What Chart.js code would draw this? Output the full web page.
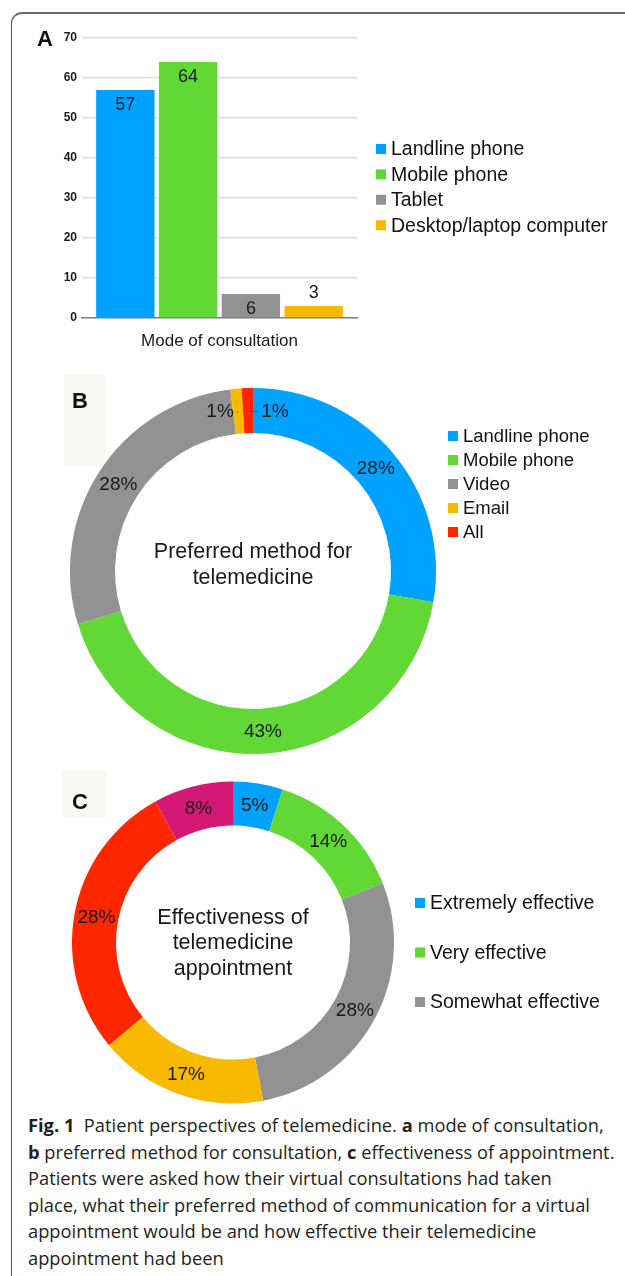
<!DOCTYPE html>
<html>
<head>
<meta charset="utf-8">
<script src="https://cdn.jsdelivr.net/npm/chart.js@4.4.0/dist/chart.umd.min.js"></script>
<style>
  html, body { margin: 0; padding: 0; background: #fff; }
  body { width: 625px; height: 1276px; position: relative; overflow: hidden; font-family: "Liberation Sans", Arial, sans-serif; }
  canvas { position: absolute; left: 0; }
  .frame { position: absolute; left: 11px; top: 12px; width: 660px; height: 1280px; border-top: 2px solid #6a6a6a; border-left: 1.5px solid #555; border-top-left-radius: 11px; }
  .tag { position: absolute; font-weight: bold; font-size: 22px; line-height: 22px; color: #111; }
  .tagbg { position: absolute; background: #f8f8f6; }
  .caption { position: absolute; left: 28px; top: 1112px; font-family: "Open Sans", sans-serif; font-size: 18.3px; line-height: 26.5px; color: #231f20; white-space: nowrap; }
  .caption b { font-weight: 700; }
</style>
</head>
<body>
<div class="frame"></div>
<div class="tagbg" style="left:64px;top:375px;width:41px;height:92px"></div>
<div class="tagbg" style="left:62px;top:770px;width:45px;height:47px"></div>

<canvas id="chartA" width="625" height="360" style="top:0"></canvas>
<canvas id="chartB" width="625" height="400" style="top:360px"></canvas>
<canvas id="chartC" width="625" height="350" style="top:760px"></canvas>

<div class="tag" style="left:37px;top:28px">A</div>
<div class="tag" style="left:72px;top:390px">B</div>
<div class="tag" style="left:72px;top:791px">C</div>

<div class="caption">
  <div><b>Fig. 1</b>&nbsp; Patient perspectives of telemedicine. <b>a</b> mode of consultation,</div>
  <div><b>b</b> preferred method for consultation, <b>c</b> effectiveness of appointment.</div>
  <div>Patients were asked how their virtual consultations had taken</div>
  <div>place, what their preferred method of communication for a virtual</div>
  <div>appointment would be and how effective their telemedicine</div>
  <div>appointment had been</div>
</div>

<script>
// panel A - mode of consultation (counts)
const modeCategory = ['Mode of consultation'];
const modeLabels = ['Landline phone', 'Mobile phone', 'Tablet', 'Desktop/laptop computer'];
const modeCounts = [57, 64, 6, 3];
const modeColors = ['#00A2FF', '#61D836', '#929292', '#F8BA00'];

// panel B - preferred method (%)
const methodLabels = ['Landline phone', 'Mobile phone', 'Video', 'Email', 'All'];
const methodPct = [28, 43, 28, 1, 1];
const methodColors = ['#00A2FF', '#61D836', '#929292', '#F8BA00', '#FF2600'];

// panel C - effectiveness (%)
const effectLabels = ['Extremely effective', 'Very effective', 'Somewhat effective', 'Slightly effective', 'Not effective', 'Not applicable'];
const effectPct = [5, 14, 28, 17, 28, 8];
const effectColors = ['#00A2FF', '#61D836', '#929292', '#F8BA00', '#FF2600', '#D41876'];

const FONT = '"Liberation Sans", Arial, sans-serif';

// legend drawn at a fixed spot beside the plot
const sideLegend = {
    id: 'sideLegend',
    afterDraw(chart, args, opts) {
        const ctx = chart.ctx;
        let items;
        if (chart.config.type === 'bar') {
            items = chart.data.datasets.map(d => ({ text: d.label, color: d.backgroundColor }));
        } else {
            const ds = chart.data.datasets[0];
            items = chart.data.labels.map((l, i) => ({ text: l, color: ds.backgroundColor[i] }));
        }
        items = items.slice(0, opts.max || items.length);
        ctx.save();
        ctx.font = opts.size + 'px ' + FONT;
        ctx.textBaseline = 'middle';
        ctx.textAlign = 'left';
        items.forEach((it, i) => {
            const y = opts.y + i * opts.gap;
            ctx.fillStyle = it.color;
            ctx.fillRect(opts.x, y - 5, 10, 10);
            ctx.fillStyle = '#111';
            ctx.fillText(it.text, opts.x + 15, y + 1);
        });
        ctx.restore();
    }
};

const barValues = {
    id: 'barValues',
    afterDatasetsDraw(chart) {
        const ctx = chart.ctx;
        ctx.save();
        ctx.font = '18px ' + FONT;
        ctx.fillStyle = '#1a1a1a';
        ctx.textAlign = 'center';
        ctx.textBaseline = 'middle';
        chart.data.datasets.forEach((ds, i) => {
            chart.getDatasetMeta(i).data.forEach((el, j) => {
                const v = ds.data[j];
                const y = v >= 5 ? el.y + 15 : el.y - 13;
                ctx.fillText(String(v), el.x, y);
            });
        });
        ctx.restore();
    }
};

const ringValues = {
    id: 'ringValues',
    afterDatasetsDraw(chart, args, opts) {
        const ctx = chart.ctx;
        const ds = chart.data.datasets[0];
        const shift = opts.shift || {};
        ctx.save();
        ctx.font = opts.size + 'px ' + FONT;
        ctx.fillStyle = '#1a1a1a';
        ctx.textAlign = 'center';
        ctx.textBaseline = 'middle';
        chart.getDatasetMeta(0).data.forEach((el, i) => {
            const p = el.tooltipPosition();
            const txt = ds.data[i] + '%';
            const dx = shift[i] || 0;
            if (dx) {
                const w = ctx.measureText(txt).width;
                const edge = dx < 0 ? p.x + dx + w / 2 + 3 : p.x + dx - w / 2 - 3;
                ctx.strokeStyle = '#555';
                ctx.lineWidth = 1;
                ctx.beginPath();
                ctx.moveTo(edge, p.y + 1);
                ctx.lineTo(p.x, p.y + 1);
                ctx.stroke();
            }
            ctx.fillText(txt, p.x + dx, p.y + 1);
        });
        ctx.restore();
    }
};

const centerText = {
    id: 'centerText',
    afterDraw(chart, args, opts) {
        const a = chart.chartArea;
        const ctx = chart.ctx;
        const cx = (a.left + a.right) / 2;
        const cy = (a.top + a.bottom) / 2 + (opts.dy || 0);
        const n = opts.lines.length;
        ctx.save();
        ctx.font = opts.size + 'px ' + FONT;
        ctx.fillStyle = '#1a1a1a';
        ctx.textAlign = 'center';
        ctx.textBaseline = 'middle';
        opts.lines.forEach((l, i) => {
            ctx.fillText(l, cx, cy + (i - (n - 1) / 2) * opts.lineHeight);
        });
        ctx.restore();
    }
};

Chart.defaults.font.family = FONT;
Chart.defaults.color = '#1a1a1a';

// A
new Chart(document.getElementById('chartA'), {
    type: 'bar',
    data: {
        labels: modeCategory,
        datasets: modeLabels.map((l, i) => ({
            label: l,
            data: [modeCounts[i]],
            backgroundColor: modeColors[i],
            categoryPercentage: 0.913,
            barPercentage: 0.93
        }))
    },
    options: {
        responsive: false,
        animation: false,
        layout: { padding: { left: 42, right: 268, top: 38, bottom: 2 } },
        plugins: {
            legend: { display: false },
            tooltip: { enabled: false },
            sideLegend: { x: 376, y: 149, gap: 25.4, size: 19.5 }
        },
        scales: {
            x: {
                grid: { display: false },
                border: { display: true, color: '#7a7a7a', width: 1.5 },
                ticks: { font: { size: 17 }, color: '#1a1a1a', padding: 5 },
                afterFit: s => { s.height = 40; }
            },
            y: {
                min: 0, max: 70,
                ticks: { stepSize: 10, font: { size: 12, weight: 'bold' }, color: '#1a1a1a', padding: 5 },
                grid: {
                    drawTicks: false,
                    lineWidth: 1.5,
                    color: c => c.tick && c.tick.value === 0 ? 'rgba(0,0,0,0)' : '#dedede'
                },
                border: { display: false },
                afterFit: s => { s.width = 40; }
            }
        }
    },
    plugins: [sideLegend, barValues]
});

// B
new Chart(document.getElementById('chartB'), {
    type: 'doughnut',
    data: {
        labels: methodLabels,
        datasets: [{ data: methodPct, backgroundColor: methodColors, borderWidth: 0, hoverOffset: 0 }]
    },
    options: {
        responsive: false,
        animation: false,
        cutout: '75.4%',
        layout: { padding: { left: 70, right: 189, top: 28, bottom: 6 } },
        plugins: {
            legend: { display: false },
            tooltip: { enabled: false },
            sideLegend: { x: 448, y: 76, gap: 24, size: 18.5 },
            ringValues: { size: 19, shift: { 3: -18, 4: 27 } },
            centerText: { lines: ['Preferred method for', 'telemedicine'], size: 21.5, lineHeight: 26, dy: -6 }
        }
    },
    plugins: [sideLegend, ringValues, centerText]
});

// C
new Chart(document.getElementById('chartC'), {
    type: 'doughnut',
    data: {
        labels: effectLabels,
        datasets: [{ data: effectPct, backgroundColor: effectColors, borderWidth: 0, hoverOffset: 0 }]
    },
    options: {
        responsive: false,
        animation: false,
        cutout: '72.7%',
        layout: { padding: { left: 72, right: 231, top: 21.5, bottom: 6.5 } },
        plugins: {
            legend: { display: false },
            tooltip: { enabled: false },
            sideLegend: { x: 415, y: 143, gap: 49.5, size: 19.5, max: 3 },
            ringValues: { size: 19 },
            centerText: { lines: ['Effectiveness of', 'telemedicine', 'appointment'], size: 21.5, lineHeight: 25.5, dy: 1 }
        }
    },
    plugins: [sideLegend, ringValues, centerText]
});
</script>
</body>
</html>
